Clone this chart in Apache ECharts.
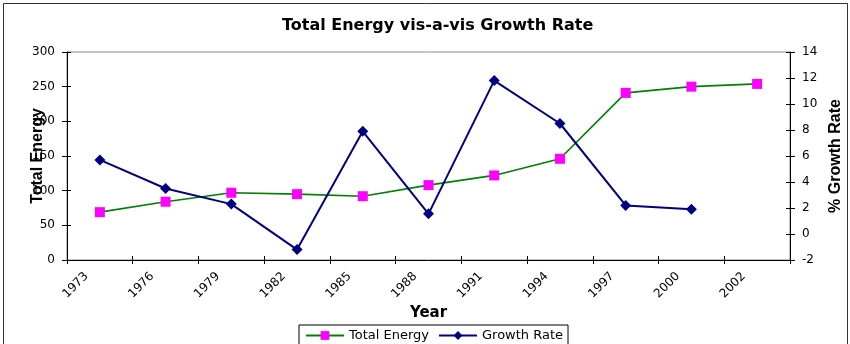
<!DOCTYPE html>
<html>
<head>
<meta charset="utf-8">
<script src="https://cdn.jsdelivr.net/npm/echarts@6/dist/echarts.min.js"></script>
<style>
  html, body { margin: 0; padding: 0; background: #fff; }
  #chart { width: 850px; height: 344px; }
</style>
</head>
<body>
<div id="chart"></div>
<script>
// Years on the category axis
const years = ['1973', '1976', '1979', '1982', '1985', '1988', '1991', '1994', '1997', '2000', '2002'];
// Total energy (left axis)
const totalEnergy = [69, 84, 97, 95, 92, 108, 122, 146, 241, 250, 254];
// Growth rate in % (right axis); no value for the final year
const growthRate = [5.7, 3.5, 2.3, -1.2, 7.9, 1.55, 11.8, 8.5, 2.2, 1.9, null];

const WIDE = '"DejaVu Sans", Verdana, sans-serif';
const NARROW = '"Liberation Sans", Arial, sans-serif';
const chart = echarts.init(document.getElementById('chart'), null, { renderer: 'canvas' });

const tickStyle = { color: '#000', width: 1 };

chart.setOption({
  animation: false,
  backgroundColor: '#fff',
  textStyle: { fontFamily: WIDE },
  title: {
    text: 'Total Energy vis-a-vis Growth Rate',
    left: 277,
    top: 13,
    textStyle: { fontFamily: WIDE, fontSize: 16, fontWeight: 'bold', color: '#000' }
  },
  legend: {
    top: 325,
    left: 299,
    itemGap: 9,
    itemWidth: 38,
    itemHeight: 11,
    padding: [4, 5, 10, 6],
    borderColor: '#000',
    borderWidth: 1,
    textStyle: { fontFamily: WIDE, fontSize: 13, color: '#000' },
    data: ['Total Energy', 'Growth Rate']
  },
  grid: {
    left: 67, right: 60, top: 52, bottom: 84,
    outerBoundsMode: 'none',
    containLabel: false,
    show: true, borderColor: '#888', borderWidth: 1
  },
  xAxis: [{
    type: 'category',
    data: years,
    boundaryGap: true,
    name: 'Year',
    nameLocation: 'middle',
    nameGap: 46,
    nameMoveOverlap: false,
    nameTextStyle: { fontFamily: WIDE, fontSize: 15, fontWeight: 'bold', color: '#000' },
    axisLine: { lineStyle: { color: '#000', width: 1 } },
    axisTick: { show: true, length: 4, lineStyle: tickStyle },
    axisLabel: { rotate: 45, interval: 0, fontSize: 12, color: '#000', margin: 1, padding: [0, 19, 0, 0], fontFamily: WIDE }
  }, {
    type: 'category',
    data: years,
    position: 'bottom',
    boundaryGap: true,
    axisLine: { show: false, onZero: false },
    axisTick: { show: true, inside: true, length: 4, lineStyle: tickStyle },
    axisLabel: { show: false }
  }],
  yAxis: [{
    type: 'value',
    min: 0, max: 300, interval: 50,
    position: 'left',
    name: 'Total Energy',
    nameLocation: 'middle',
    nameGap: 21,
    nameMoveOverlap: false,
    nameRotate: 90,
    nameTextStyle: { fontFamily: NARROW, fontSize: 16, fontWeight: 'bold', color: '#000' },
    axisLine: { show: true, lineStyle: { color: '#000', width: 1 } },
    axisTick: { show: true, length: 5, lineStyle: tickStyle },
    axisLabel: { fontSize: 12, color: '#000', margin: 12, fontFamily: WIDE },
    splitLine: { show: false }
  }, {
    type: 'value',
    min: -2, max: 14, interval: 2,
    position: 'right',
    name: '% Growth Rate',
    nameLocation: 'middle',
    nameGap: 38,
    nameMoveOverlap: false,
    nameRotate: 90,
    nameTextStyle: { fontFamily: NARROW, fontSize: 16, fontWeight: 'bold', color: '#000' },
    axisLine: { show: true, lineStyle: { color: '#000', width: 1 } },
    axisTick: { show: true, length: 5, lineStyle: tickStyle },
    axisLabel: { fontSize: 12, color: '#000', margin: 12, fontFamily: WIDE },
    splitLine: { show: false }
  }, {
    type: 'value',
    min: 0, max: 300, interval: 50,
    position: 'left', offset: 0,
    axisLine: { show: false, onZero: false },
    axisTick: { show: true, inside: true, length: 4, lineStyle: tickStyle },
    axisLabel: { show: false },
    splitLine: { show: false }
  }, {
    type: 'value',
    min: -2, max: 14, interval: 2,
    position: 'right', offset: 0,
    axisLine: { show: false, onZero: false },
    axisTick: { show: true, inside: true, length: 4, lineStyle: tickStyle },
    axisLabel: { show: false },
    splitLine: { show: false }
  }],
  series: [{
    name: 'Total Energy',
    type: 'line',
    yAxisIndex: 0,
    data: totalEnergy,
    symbol: 'rect',
    symbolSize: 10,
    itemStyle: { color: '#FF00FF', borderWidth: 0 },
    lineStyle: { color: '#008000', width: 1.6 },
    z: 3
  }, {
    name: 'Growth Rate',
    type: 'line',
    yAxisIndex: 1,
    data: growthRate,
    connectNulls: false,
    symbol: 'diamond',
    symbolSize: 11,
    itemStyle: { color: '#000080', borderWidth: 0 },
    lineStyle: { color: '#000080', width: 2 },
    z: 4
  }],
  graphic: [{
    type: 'rect',
    shape: { x: 3.5, y: 3.5, width: 844, height: 360 },
    style: { fill: null, stroke: '#333', lineWidth: 1 },
    silent: true,
    z: -1
  }]
});
</script>
</body>
</html>
